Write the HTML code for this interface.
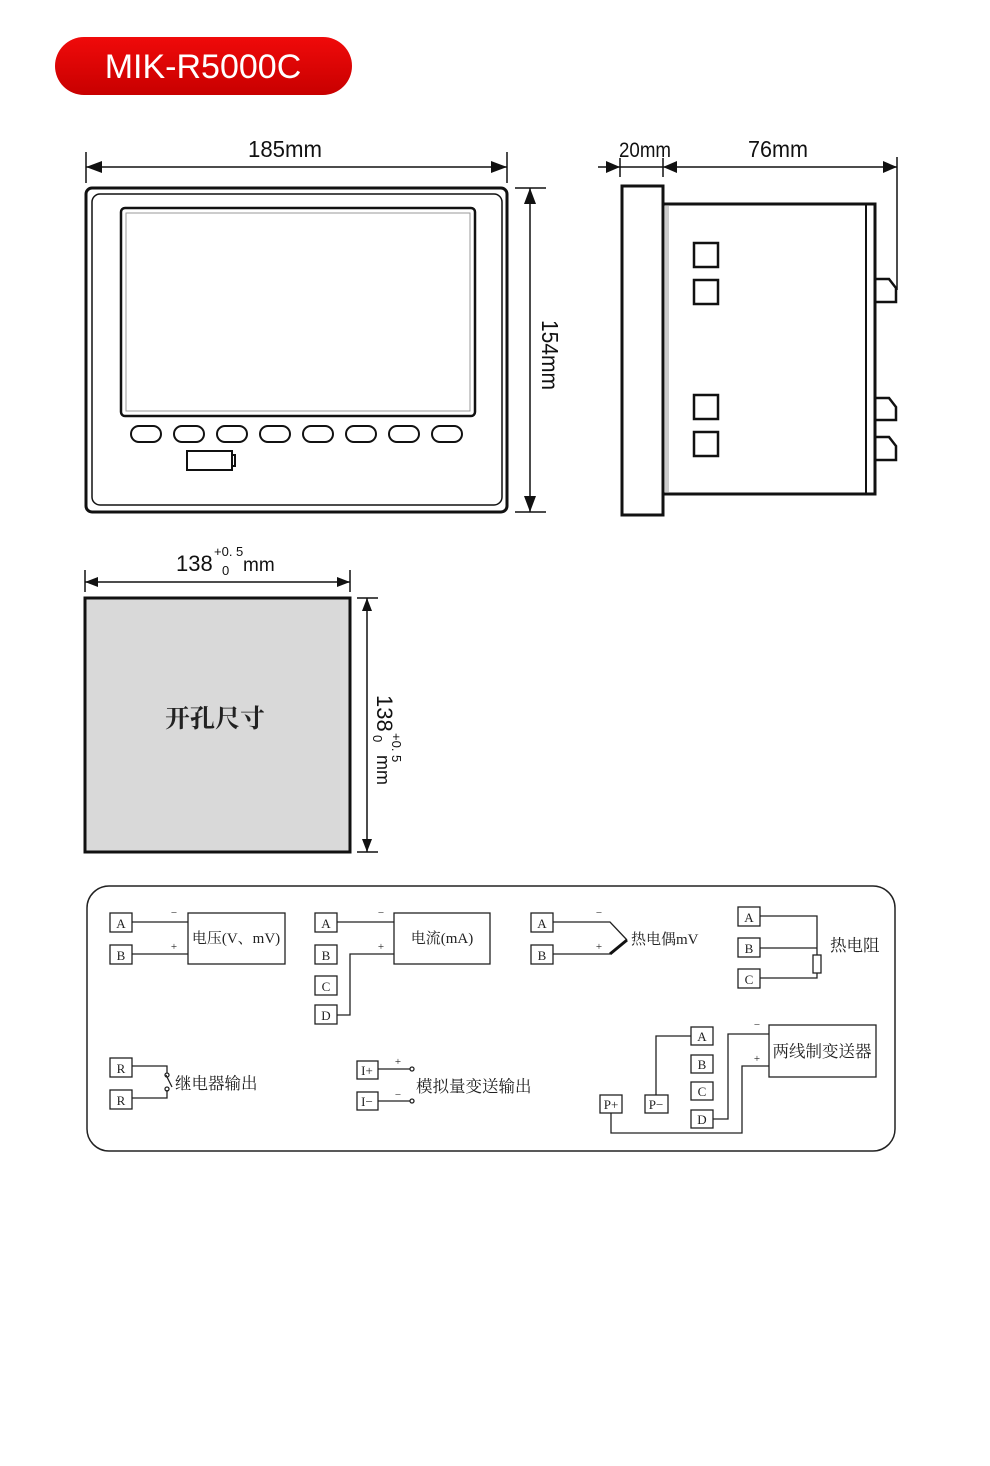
<!DOCTYPE html>
<html><head><meta charset="utf-8"><style>
html,body{margin:0;padding:0;background:#fff}
svg{display:block}
.s{font-family:"Liberation Serif","Noto Serif CJK SC",serif;fill:#222}
.a{font-family:"Liberation Sans","Noto Sans CJK SC",sans-serif;fill:#111}
</style></head><body>
<svg width="990" height="1466" viewBox="0 0 990 1466" xmlns="http://www.w3.org/2000/svg">
<defs>
<linearGradient id="rg" x1="0" y1="0" x2="0" y2="1"><stop offset="0" stop-color="#f00a0a"/><stop offset="1" stop-color="#c80000"/></linearGradient>
</defs>
<rect x="55" y="37" width="297" height="58" rx="29" fill="url(#rg)"/>
<text x="203" y="78" text-anchor="middle" font-family="Liberation Sans, sans-serif" font-size="34" fill="#fff">MIK-R5000C</text>

<g fill="none" stroke="#111">
<rect x="86" y="188" width="421" height="324" rx="6" stroke-width="3"/>
<rect x="92" y="194" width="410" height="311" rx="8" stroke-width="1.5"/>
<rect x="121" y="208" width="354" height="208" rx="4" stroke-width="2.5"/>
<rect x="126" y="213" width="344" height="198" stroke-width="1" stroke="#999"/>
<g stroke-width="2">
<rect x="131" y="426" width="30" height="16" rx="8"/><rect x="174" y="426" width="30" height="16" rx="8"/>
<rect x="217" y="426" width="30" height="16" rx="8"/><rect x="260" y="426" width="30" height="16" rx="8"/>
<rect x="303" y="426" width="30" height="16" rx="8"/><rect x="346" y="426" width="30" height="16" rx="8"/>
<rect x="389" y="426" width="30" height="16" rx="8"/><rect x="432" y="426" width="30" height="16" rx="8"/>
<rect x="187" y="451" width="45" height="19"/><rect x="232" y="455" width="3" height="11"/>
</g>
<g stroke-width="1.5">
<line x1="86" y1="167" x2="507" y2="167"/><line x1="86" y1="152" x2="86" y2="183"/><line x1="507" y1="152" x2="507" y2="183"/>
<line x1="530" y1="188" x2="530" y2="512"/><line x1="515" y1="188" x2="546" y2="188"/><line x1="515" y1="512" x2="546" y2="512"/>
</g>
<rect x="622" y="186" width="41" height="329" stroke-width="3"/>
<rect x="663" y="204" width="212" height="290" stroke-width="3"/>
<line x1="866" y1="204" x2="866" y2="494" stroke-width="2"/>
<rect x="665" y="206" width="4" height="286" fill="#ccc" stroke="none"/>
<g stroke-width="2.5">
<rect x="694" y="243" width="24" height="24"/><rect x="694" y="280" width="24" height="24"/>
<rect x="694" y="395" width="24" height="24"/><rect x="694" y="432" width="24" height="24"/>
<path d="M876 279 H889 L896 288 V302 H876"/><path d="M876 398 H889 L896 407 V420 H876"/><path d="M876 437 H889 L896 446 V460 H876"/>
</g>
<g stroke-width="1.5">
<line x1="598" y1="167" x2="897" y2="167"/><line x1="620" y1="158" x2="620" y2="177"/><line x1="663" y1="158" x2="663" y2="177"/><line x1="897" y1="157" x2="897" y2="290"/>
</g>
<rect x="85" y="598" width="265" height="254" fill="#d9d9d9" stroke-width="3"/>
<g stroke-width="1.5">
<line x1="85" y1="582" x2="350" y2="582"/><line x1="85" y1="570" x2="85" y2="592"/><line x1="350" y1="570" x2="350" y2="592"/>
<line x1="367" y1="598" x2="367" y2="852"/><line x1="357" y1="598" x2="378" y2="598"/><line x1="357" y1="852" x2="378" y2="852"/>
</g>
</g>
<g fill="#111">
<path d="M86 167 L102 161 L102 173Z"/><path d="M507 167 L491 161 L491 173Z"/>
<path d="M530 188 L524 204 L536 204Z"/><path d="M530 512 L524 496 L536 496Z"/>
<path d="M620 167 L606 161 L606 173Z"/><path d="M663 167 L677 161 L677 173Z"/><path d="M897 167 L883 161 L883 173Z"/>
<path d="M85 582 L98 577 L98 587Z"/><path d="M350 582 L337 577 L337 587Z"/>
<path d="M367 598 L362 611 L372 611Z"/><path d="M367 852 L362 839 L372 839Z"/>
</g>
<text class="a" x="285" y="157" text-anchor="middle" font-size="23" textLength="74" lengthAdjust="spacingAndGlyphs">185mm</text>
<text class="a" transform="translate(542,355) rotate(90)" text-anchor="middle" font-size="23" textLength="70" lengthAdjust="spacingAndGlyphs">154mm</text>
<text class="a" x="645" y="157" text-anchor="middle" font-size="21" textLength="52" lengthAdjust="spacingAndGlyphs">20mm</text>
<text class="a" x="778" y="157" text-anchor="middle" font-size="23" textLength="60" lengthAdjust="spacingAndGlyphs">76mm</text>
<text class="a" x="176" y="571" font-size="22">138</text>
<text class="a" x="214" y="556" font-size="13">+0. 5</text>
<text class="a" x="222" y="575" font-size="13">0</text>
<text class="a" x="243" y="571" font-size="19">mm</text>
<g transform="translate(377,695) rotate(90)">
<text class="a" x="0" y="0" font-size="22">138</text>
<text class="a" x="38" y="-15" font-size="13">+0. 5</text>
<text class="a" x="40" y="4" font-size="13">0</text>
<text class="a" x="60" y="0" font-size="18">mm</text>
</g>
<text class="s" x="215" y="727" text-anchor="middle" font-size="25" font-weight="bold" fill="#222">开孔尺寸</text>

<g fill="none" stroke="#222" stroke-width="1.3">
<rect x="87" y="886" width="808" height="265" rx="22" stroke-width="1.5"/>
<rect x="110" y="913" width="22" height="19"/><rect x="110" y="945" width="22" height="19"/>
<rect x="188" y="913" width="97" height="51"/>
<path d="M132 922 H188 M132 954 H188"/>
<rect x="315" y="913" width="22" height="19"/><rect x="315" y="945" width="22" height="19"/><rect x="315" y="976" width="22" height="19"/><rect x="315" y="1005" width="22" height="19"/>
<rect x="394" y="913" width="96" height="51"/>
<path d="M337 922 H394 M337 1015 H350 V954 H394"/>
<rect x="531" y="913" width="22" height="19"/><rect x="531" y="945" width="22" height="19"/>
<path d="M553 922 H610 L627 940 M553 954 H610"/>
<rect x="738" y="907" width="22" height="19"/><rect x="738" y="938" width="22" height="19"/><rect x="738" y="969" width="22" height="19"/>
<path d="M760 916 H817 V955 M760 948 H817 M760 978 H817 V973"/>
<rect x="813" y="955" width="8" height="18"/>
<rect x="110" y="1058" width="22" height="19"/><rect x="110" y="1090" width="22" height="19"/>
<path d="M132 1066 H167 V1073 M132 1098 H167 V1090 M166 1075 L172 1087"/>
<circle cx="167" cy="1075" r="2"/><circle cx="167" cy="1089" r="2"/>
<rect x="357" y="1061" width="21" height="18"/><rect x="357" y="1092" width="21" height="18"/>
<path d="M378 1069 H410 M378 1101 H410"/>
<circle cx="412" cy="1069" r="2"/><circle cx="412" cy="1101" r="2"/>
<rect x="691" y="1027" width="22" height="18"/><rect x="691" y="1055" width="22" height="18"/><rect x="691" y="1082" width="22" height="18"/><rect x="691" y="1110" width="22" height="18"/>
<rect x="600" y="1095" width="22" height="18"/><rect x="645" y="1095" width="23" height="18"/>
<rect x="769" y="1025" width="107" height="52"/>
<path d="M656 1095 V1036 H691 M713 1119 H728 V1034 H769 M611 1113 V1133 H742 V1066 H769"/>
</g>
<path d="M610 954 L627 940" stroke="#111" stroke-width="3" fill="none"/>
<g class="s" font-size="13" text-anchor="middle">
<text x="121" y="928">A</text><text x="121" y="960">B</text>
<text x="326" y="928">A</text><text x="326" y="960">B</text><text x="326" y="991">C</text><text x="326" y="1020">D</text>
<text x="542" y="928">A</text><text x="542" y="960">B</text>
<text x="749" y="922">A</text><text x="749" y="953">B</text><text x="749" y="984">C</text>
<text x="121" y="1073">R</text><text x="121" y="1105">R</text>
<text x="367" y="1075">I+</text><text x="367" y="1106">I−</text>
<text x="702" y="1041">A</text><text x="702" y="1069">B</text><text x="702" y="1096">C</text><text x="702" y="1124">D</text>
<text x="611" y="1109">P+</text><text x="656" y="1109">P−</text>
</g>
<g class="s" font-size="11" text-anchor="middle">
<text x="174" y="916">−</text><text x="174" y="950">+</text>
<text x="381" y="916">−</text><text x="381" y="950">+</text>
<text x="599" y="916">−</text><text x="599" y="950">+</text>
<text x="398" y="1065">+</text><text x="398" y="1098">−</text>
<text x="757" y="1028">−</text><text x="757" y="1062">+</text>
</g>
<g class="s" font-size="15">
<text x="236" y="943" text-anchor="middle">电压(V、mV)</text>
<text x="442" y="943" text-anchor="middle">电流(mA)</text>
<text x="631" y="944">热电偶mV</text>
</g>
<g class="s" font-size="16.5">
<text x="830" y="951">热电阻</text>
<text x="175" y="1089">继电器输出</text>
<text x="416" y="1092">模拟量变送输出</text>
<text x="822" y="1057" text-anchor="middle">两线制变送器</text>
</g>
</svg>
</body></html>
